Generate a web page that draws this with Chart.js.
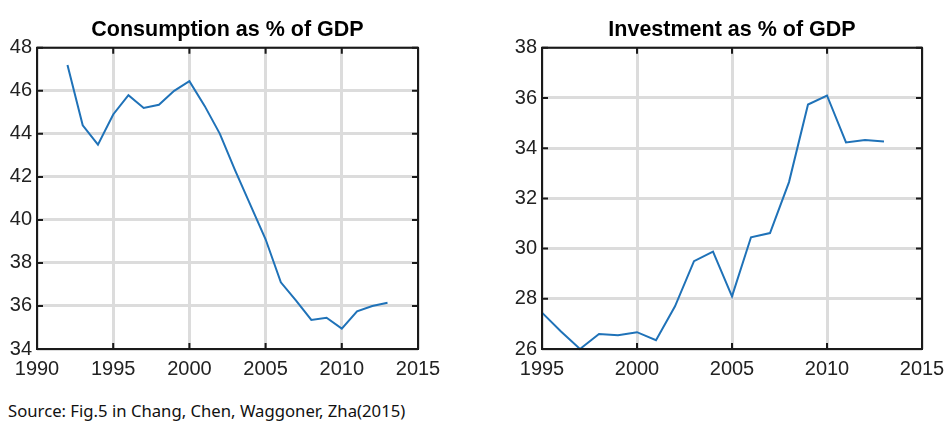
<!DOCTYPE html>
<html>
<head>
<meta charset="utf-8">
<script src="https://cdn.jsdelivr.net/npm/chart.js@4"></script>
<style>
  body { margin:0; width:950px; height:428px; background:#fff; position:relative; overflow:hidden; }
  .box { position:absolute; top:0; height:390px; }
  #source { position:absolute; left:8px; top:399px; font:16.7px "Noto Sans", "Open Sans", sans-serif; color:#111; }
</style>
</head>
<body>
<div class="box" style="left:0;width:462px;"><canvas id="consCanvas"></canvas></div>
<div class="box" style="left:470px;width:480px;"><canvas id="invCanvas"></canvas></div>
<div id="source">Source: Fig.5 in Chang, Chen, Waggoner, Zha(2015)</div>
<script>
// data
const consYears = [1992,1993,1994,1995,1996,1997,1998,1999,2000,2001,2002,2003,2004,2005,2006,2007,2008,2009,2010,2011,2012,2013];
const consValues = [47.2,44.4,43.5,44.9,45.8,45.2,45.35,46.0,46.45,45.3,44.0,42.3,40.7,39.1,37.1,36.25,35.35,35.45,34.95,35.75,36.0,36.15];
const invYears = [1995,1996,1997,1998,1999,2000,2001,2002,2003,2004,2005,2006,2007,2008,2009,2010,2011,2012,2013];
const invValues = [27.45,26.7,26.0,26.6,26.55,26.67,26.35,27.7,29.5,29.88,28.1,30.45,30.62,32.65,35.74,36.1,34.23,34.33,34.27];
const consXTicks = [1990,1995,2000,2005,2010,2015];
const consYTicks = [34,36,38,40,42,44,46,48];
const invXTicks = [1995,2000,2005,2010,2015];
const invYTicks = [26,28,30,32,34,36,38];

const LINE = '#1f72b8';
const FONT = "'Liberation Sans', Arial, Helvetica, sans-serif";

// black frame + inward tick marks on all four sides
const framePlugin = {
  id: 'frame',
  afterDraw(chart) {
    const { ctx, chartArea: a, scales } = chart;
    ctx.save();
    ctx.strokeStyle = '#1a1a1a';
    ctx.lineWidth = 2;
    ctx.strokeRect(a.left, a.top, a.right - a.left, a.bottom - a.top);
    const len = 6;
    ctx.beginPath();
    scales.x.ticks.forEach(t => {
      const px = scales.x.getPixelForValue(t.value);
      ctx.moveTo(px, a.bottom); ctx.lineTo(px, a.bottom - len);
      ctx.moveTo(px, a.top); ctx.lineTo(px, a.top + len);
    });
    scales.y.ticks.forEach(t => {
      const py = scales.y.getPixelForValue(t.value);
      ctx.moveTo(a.left, py); ctx.lineTo(a.left + len, py);
      ctx.moveTo(a.right, py); ctx.lineTo(a.right - len, py);
    });
    ctx.stroke();
    ctx.restore();
  }
};

function makeChart(id, title, years, values, xTicks, yTicks, yWidth, padRight) {
  return new Chart(document.getElementById(id), {
    type: 'line',
    data: {
      datasets: [{
        data: years.map((y, i) => ({ x: y, y: values[i] })),
        borderColor: LINE, borderWidth: 2, pointRadius: 0, tension: 0, clip: false
      }]
    },
    options: {
      responsive: true, maintainAspectRatio: false, animation: false,
      layout: { padding: { left: 0, right: padRight, top: 0, bottom: 0 } },
      plugins: {
        legend: { display: false },
        tooltip: { enabled: false },
        title: {
          display: true, text: title, fullSize: false, color: '#000',
          font: { family: FONT, size: 21.5, weight: 'bold', lineHeight: 1.2 },
          padding: { top: 17, bottom: 5 }
        }
      },
      scales: {
        x: {
          type: 'linear', min: xTicks[0], max: xTicks[xTicks.length - 1],
          afterBuildTicks: s => { s.ticks = xTicks.map(v => ({ value: v })); },
          afterFit: s => { s.height = 41; s.paddingLeft = 0; s.paddingRight = 0; },
          grid: { color: '#dcdcdc', lineWidth: 3, drawTicks: false },
          border: { display: false },
          ticks: { color: '#222', padding: 8, maxRotation: 0, font: { family: FONT, size: 20 }, callback: v => String(v) }
        },
        y: {
          min: yTicks[0], max: yTicks[yTicks.length - 1],
          afterBuildTicks: s => { s.ticks = yTicks.map(v => ({ value: v })); },
          afterFit: s => { s.width = yWidth; s.paddingTop = 0; s.paddingBottom = 0; },
          grid: { color: '#dcdcdc', lineWidth: 3, drawTicks: false },
          border: { display: false },
          ticks: { color: '#222', padding: 5, font: { family: FONT, size: 20 } }
        }
      }
    },
    plugins: [framePlugin]
  });
}

makeChart('consCanvas', 'Consumption as % of GDP', consYears, consValues, consXTicks, consYTicks, 37, 44);
makeChart('invCanvas', 'Investment as % of GDP', invYears, invValues, invXTicks, invYTicks, 72, 28);
</script>
</body>
</html>
